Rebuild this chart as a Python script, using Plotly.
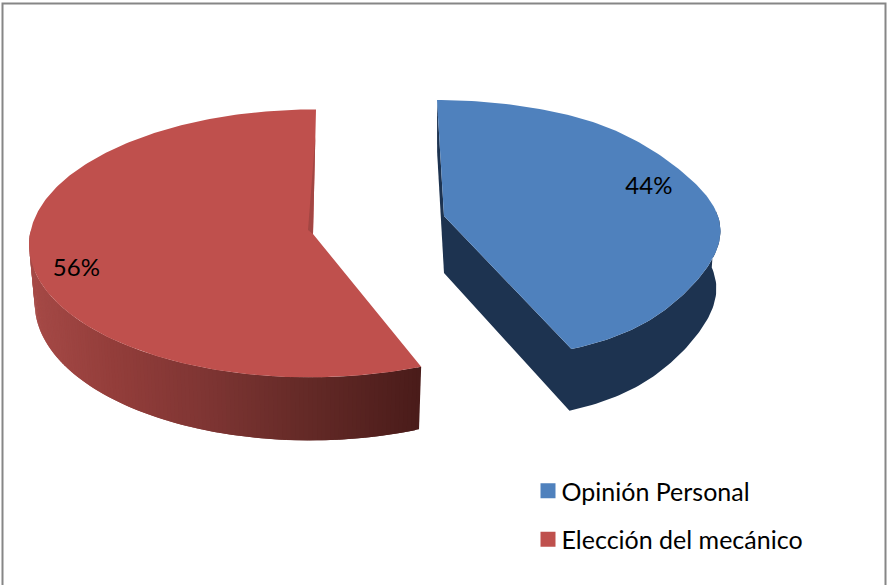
import numpy as np
import plotly.graph_objects as go

# ---- data ----
categories = ["Opinión Personal", "Elección del mecánico"]
values = [44, 56]
labels = [f"{v}%" for v in values]

# ---- look of the drawing ----
W, H = 887, 585
FONT = "Lato"
TOP = ["#4f81bd", "#bf504d"]
BLUE_WALL = "#1d3350"
RED_SLIVER = "#a34643"
RED_STOPS_X = [30, 110, 200, 300, 420]
RED_STOPS_C = [(166, 74, 71), (148, 62, 59), (128, 54, 52), (102, 43, 40), (74, 28, 26)]

# perspective stretch of the blue slice along its depth (depth position -> width factor)
PERSP_V = [-1, -.73, -.5, -.27, -.07, .14, .3, .52, .78, .93, 1]
PERSP_F = [.9, .91, .922, .947, .982, 1.014, 1.025, 1.029, 1.104, 1.197, 1.25]
PERSP_FIT = np.polyfit(PERSP_V, PERSP_F, 6)

# projection of each exploded slice: apex, radii, perspective terms, thickness
BLUE = dict(ax=444, ay=216, rx=275, ry=130, ky=.108, sh=7, depth=57, dgrow=5, sx=.985, fit=PERSP_FIT)
RED = dict(ax=313, ay=234, rx=283, ry=134, ky=.07, sh=-3, depth=58, dgrow=5, sx=.98, fit=[.07, 1])


def rim_xy(g, t):
    u, v = np.sin(t), -np.cos(t)
    return (g["rx"] * u * np.polyval(g["fit"], v) + g["sh"] * v,
            g["ry"] * v * (1 + g["ky"] * v))


def top_pt(g, t):
    dx, dy = rim_xy(g, t)
    return g["ax"] + dx, g["ay"] + dy


def bot_pt(g, t):
    dx, dy = rim_xy(g, t)
    return g["ax"] + g["sx"] * dx, g["ay"] + dy + g["depth"] + g["dgrow"] * (-np.cos(t))


def poly(xs, ys, color, lw=0.0):
    return go.Scatter(x=list(xs), y=list(ys), mode="lines", fill="toself", fillcolor=color,
                      line=dict(color=color, width=lw), hoverinfo="skip", showlegend=False)


total = sum(values)
split = 2 * np.pi * values[0] / total
t_blue = np.linspace(0, split, 160)
t_red = np.linspace(split, 2 * np.pi, 240)

fig = go.Figure()

# blue slice: thickness (one outline for outer wall + cut wall), hidden wall sliver, top face
bx, by = top_pt(BLUE, t_blue)
lx, ly = bot_pt(BLUE, t_blue)
front = -np.cos(t_blue) > -0.05
fig.add_trace(poly(list(bx[front]) + [BLUE["ax"], BLUE["ax"]] + list(lx[front][::-1]),
                   list(by[front]) + [BLUE["ay"], BLUE["ay"] + BLUE["depth"]] + list(ly[front][::-1]),
                   BLUE_WALL))
fig.add_trace(poly([BLUE["ax"], bx[0], lx[0], BLUE["ax"]],
                   [BLUE["ay"], by[0], ly[0], BLUE["ay"] + BLUE["depth"]], BLUE_WALL))
fig.add_trace(poly([BLUE["ax"]] + list(bx) + [BLUE["ax"]],
                   [BLUE["ay"]] + list(by) + [BLUE["ay"]], TOP[0]))

# red slice: outer wall shaded in overlapping strips, then the top face and sliver of wall
rx_, ry_ = top_pt(RED, t_red)
qx, qy = bot_pt(RED, t_red)
idx = [i for i in range(len(t_red) - 1) if -np.cos(t_red[i]) > 0.0]
for i in idx:
    j = min(i + 3, len(t_red))
    xm = (rx_[i] + rx_[i + 1]) / 2
    col = [np.interp(xm, RED_STOPS_X, [c[k] for c in RED_STOPS_C]) for k in range(3)]
    fig.add_trace(poly(list(rx_[i:j]) + list(qx[i:j][::-1]),
                       list(ry_[i:j]) + list(qy[i:j][::-1]), "rgb(%d,%d,%d)" % tuple(col)))
fig.add_trace(poly([RED["ax"]] + list(rx_) + [RED["ax"]],
                   [RED["ay"]] + list(ry_) + [RED["ay"]], TOP[1]))
sx0, sy0 = RED["ax"] + (rx_[-1] - RED["ax"]) * .78, RED["ay"] + (ry_[-1] - RED["ay"]) * .78
fig.add_trace(poly([sx0, RED["ax"], RED["ax"] - 5, sx0],
                   [sy0, RED["ay"], RED["ay"] - 4, sy0], RED_SLIVER))

# data labels, placed on the slices
lab_t = [split * .47, split + (2 * np.pi - split) * .465]
lab_r = [.82, .857]
lab_x, lab_y = [], []
for g, t, r in zip((BLUE, RED), lab_t, lab_r):
    px, py = top_pt(g, t)
    lab_x.append(g["ax"] + (px - g["ax"]) * r)
    lab_y.append(g["ay"] + (py - g["ay"]) * r)
fig.add_trace(go.Scatter(x=lab_x, y=lab_y, mode="text", text=labels, hoverinfo="skip", showlegend=False,
                         textfont=dict(family=FONT, size=24, color="#000000")))

# legend entries
for name, color in zip(categories, TOP):
    fig.add_trace(go.Scatter(x=[None], y=[None], mode="markers", name=name, legendgroup=name,
                             marker=dict(symbol="square", size=15, color=color)))

fig.update_layout(
    width=W, height=H, margin=dict(l=0, r=0, t=0, b=0),
    paper_bgcolor="white", plot_bgcolor="white",
    xaxis=dict(range=[0, W], visible=False, fixedrange=True),
    yaxis=dict(range=[H, 0], visible=False, fixedrange=True),
    legend=dict(x=528 / W, y=1 - 468 / H, xanchor="left", yanchor="top",
                font=dict(family=FONT, size=25, color="#000000"),
                tracegroupgap=13, itemwidth=30, bgcolor="rgba(0,0,0,0)", traceorder="grouped"),
    shapes=[dict(type="rect", xref="x", yref="y", x0=2.5, x1=885.5, y0=3.5, y1=H + 20,
                 line=dict(color="#868686", width=2), layer="below")],
)
post = """
document.documentElement.style.overflow = 'hidden';
document.body.style.margin = '0';
document.querySelectorAll('.legendtext').forEach(function (t) { t.setAttribute('x', 33.5); });
"""
fig.write_html("out.html", config={"displayModeBar": False}, post_script=post)
